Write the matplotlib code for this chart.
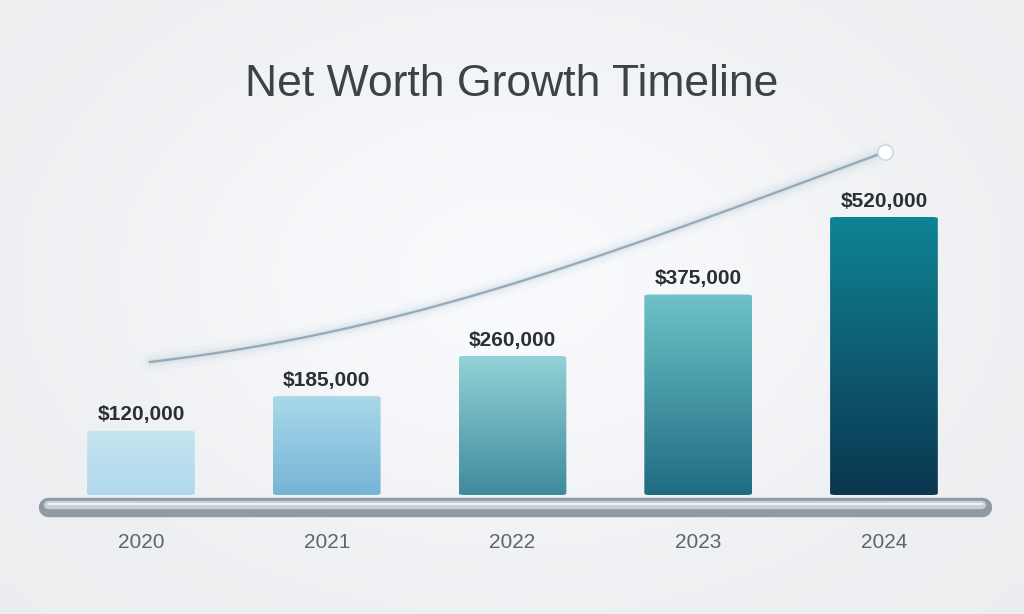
import matplotlib
matplotlib.use('Agg')
import matplotlib.pyplot as plt
import numpy as np
from matplotlib.colors import LinearSegmentedColormap
from matplotlib.patches import FancyBboxPatch

plt.rcParams['font.family'] = ['Liberation Sans', 'DejaVu Sans']

years = ['2020', '2021', '2022', '2023', '2024']
values = [120000, 185000, 260000, 375000, 520000]
top_colors = ['#c6e4f1', '#a9d9ea', '#93d2d6', '#6ec2c8', '#0f8494']
bottom_colors = ['#b0d8ec', '#76b4d6', '#3f8a9d', '#1f6c82', '#0b3650']

fig = plt.figure(figsize=(10.24, 6.14), dpi=100)

# soft background
bg = fig.add_axes([0, 0, 1, 1])
yy, xx = np.mgrid[0:1:200j, 0:1:300j]
shade = 0.94 + 0.05 * np.exp(-((xx - 0.5) ** 2 / 0.15 + (yy - 0.55) ** 2 / 0.2))
bg.imshow(np.dstack([shade * 0.985, shade * 0.99, shade]), extent=[0, 1, 0, 1],
          aspect='auto', origin='lower')
bg.set_xlim(0, 1)
bg.set_ylim(0, 1)
bg.axis('off')

ax = fig.add_axes([0, 119 / 614, 1, 1 - 119 / 614])
ax.set_xlim(-0.759, 4.754)
ymax = 520000 * 495 / 278
ax.set_ylim(0, ymax)
ax.axis('off')

width = 0.58
for i, (v, c1, c2) in enumerate(zip(values, top_colors, bottom_colors)):
    cmap = LinearSegmentedColormap.from_list('g%d' % i, [c2, c1])
    patch = FancyBboxPatch((i - width / 2, 0), width, v,
                           boxstyle='round,pad=0,rounding_size=0.03',
                           mutation_aspect=ymax / 5.5 * 0.6,
                           facecolor='none', edgecolor='none')
    ax.add_patch(patch)
    grad = np.linspace(0, 1, 256).reshape(-1, 1)
    im = ax.imshow(grad, cmap=cmap, extent=[i - width / 2, i + width / 2, 0, v],
                   origin='lower', aspect='auto', zorder=2)
    im.set_clip_path(patch)
    ax.text(i, v + 12000, '${:,}'.format(v), ha='center', va='bottom',
            fontsize=15, fontweight='bold', color='#2b2f33', zorder=3)
    fig.text((141 + 185.75 * i) / 1024, 1 - 543 / 614, years[i], ha='center',
             va='center', fontsize=15, color='#5f6569')

# glowing growth swoosh
t = np.linspace(0, 1, 200)
p0, p1, p2, p3 = np.array([150, 362]), np.array([420, 330]), np.array([620, 250]), np.array([885, 152])
curve = ((1 - t) ** 3)[:, None] * p0 + (3 * (1 - t) ** 2 * t)[:, None] * p1 + \
        (3 * (1 - t) * t ** 2)[:, None] * p2 + (t ** 3)[:, None] * p3
cx = curve[:, 0] / 1024
cy = 1 - curve[:, 1] / 614
for lw, a in [(14, 0.05), (8, 0.08), (4, 0.15)]:
    bg.plot(cx, cy, color='#9fb8c8', lw=lw, alpha=a, solid_capstyle='round')
bg.plot(cx, cy, color='#8ea3b0', lw=1.6, alpha=0.9)
bg.scatter([cx[-1]], [cy[-1]], s=120, color='white', edgecolor='#c8d6de', zorder=5)

# metallic rod
ry = 1 - 507 / 614
bg.plot([48 / 1024, 982 / 1024], [ry, ry], color='#8f9aa2', lw=14, solid_capstyle='round')
bg.plot([48 / 1024, 982 / 1024], [ry + 0.003, ry + 0.003], color='#c8d0d5', lw=6,
        solid_capstyle='round')
bg.plot([48 / 1024, 982 / 1024], [ry + 0.005, ry + 0.005], color='#eef2f4', lw=1.5,
        solid_capstyle='round')

fig.text(0.5, 1 - 85 / 614, 'Net Worth Growth Timeline', ha='center', va='center',
         fontsize=32, color='#3c4347')

fig.savefig('out.png', dpi=100)
